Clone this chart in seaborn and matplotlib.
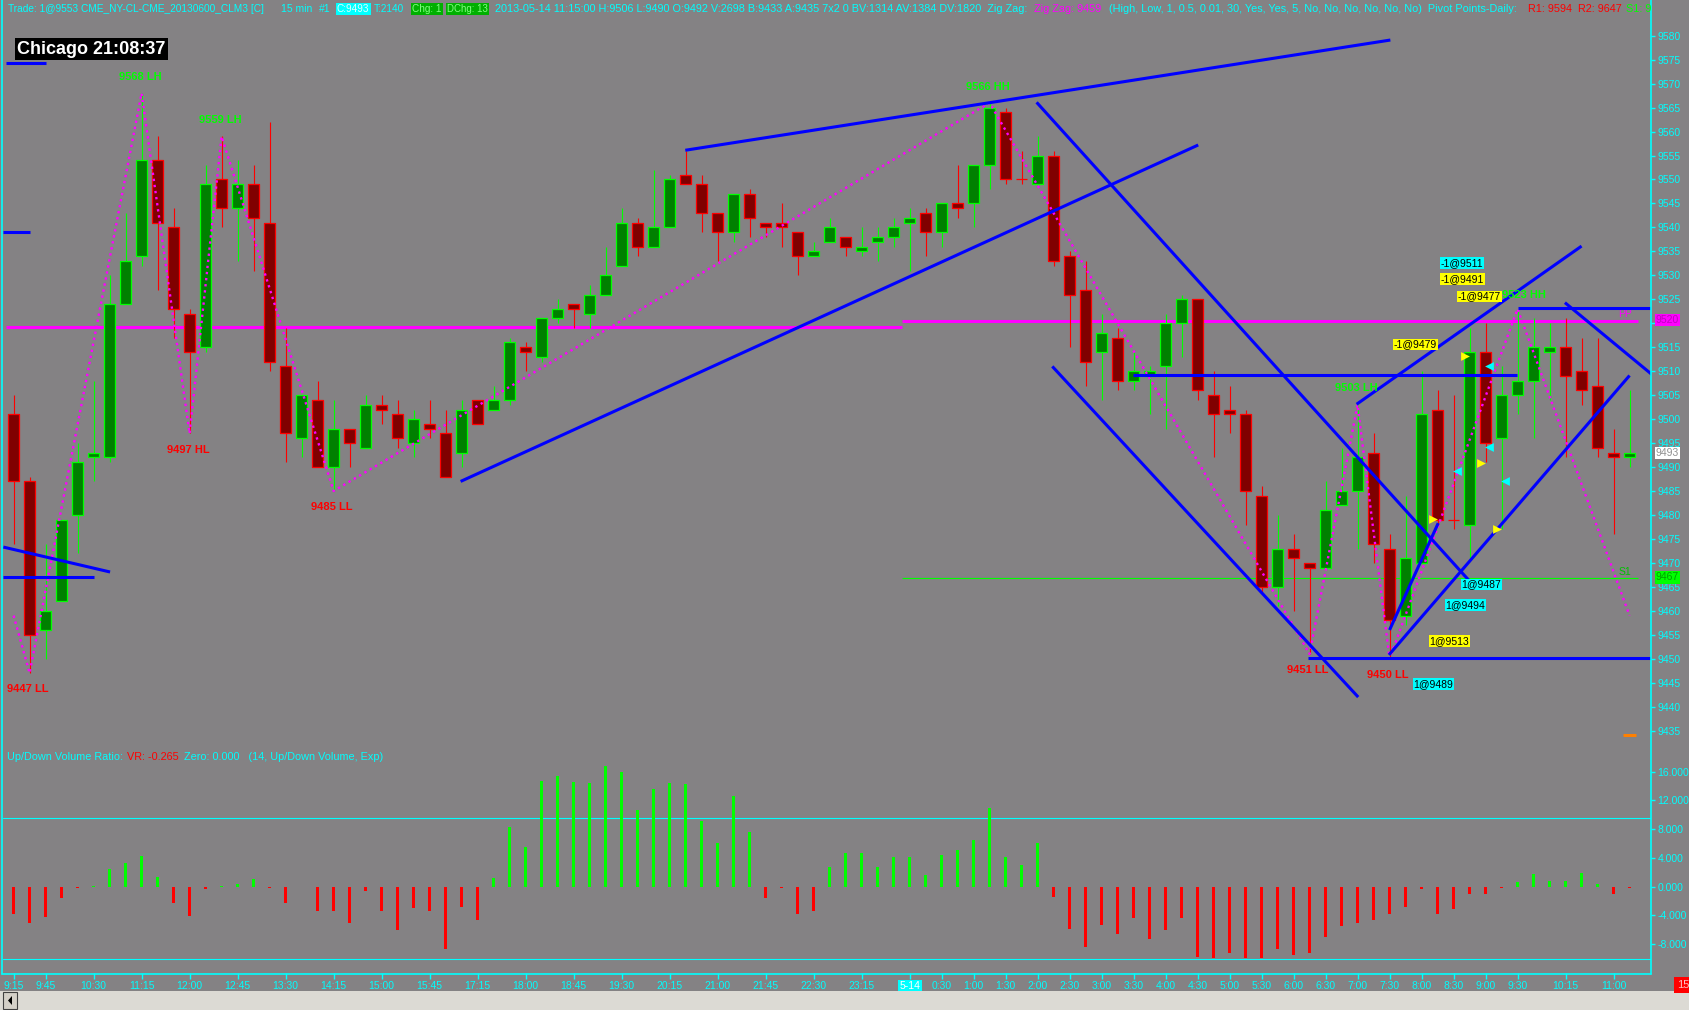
import numpy as np
import matplotlib
matplotlib.use("Agg")
import matplotlib.pyplot as plt
from matplotlib.lines import Line2D
from matplotlib.patches import Rectangle, Polygon
import seaborn as sns

# ── Canvas ───────────────────────────────────────────────────────────────────
W, H = 1690, 1010
BG = "#848284"
CYAN = "#00FFFF"
BLUE = "#0000FF"
MAG = "#FF00FF"
UP_EDGE, UP_FILL = "#00FF00", "#008000"
DN_EDGE, DN_FILL = "#FF0000", "#800000"

# ── Data: 15 min CL bars, prices in ticks (9493 = 94.93) ─────────────────────
opens = [9501, 9487, 9456, 9462, 9480, 9492, 9492, 9524, 9534, 9554,
         9540, 9522, 9515, 9550, 9544, 9549, 9541, 9511, 9496, 9504,
         9490, 9498, 9494, 9503, 9501, 9495, 9499, 9497, 9493, 9504,
         9502, 9504, 9515, 9513, 9521, 9524, 9522, 9526, 9532, 9541,
         9536, 9540, 9551, 9549, 9543, 9539, 9547, 9541, 9541, 9539,
         9534, 9537, 9538, 9535, 9537, 9538, 9541, 9543, 9539, 9545,
         9545, 9553, 9564, 9550, 9549, 9555, 9534, 9527, 9514, 9517,
         9508, 9509, 9511, 9520, 9525, 9505, 9502, 9501, 9484, 9465,
         9473, 9470, 9469, 9482, 9485, 9493, 9473, 9459, 9470, 9502,
         9479, 9478, 9514, 9496, 9505, 9508, 9514, 9515, 9510, 9507,
         9493, 9492]
highs = [9505, 9488, 9474, 9479, 9495, 9508, 9530, 9543, 9568, 9559,
         9544, 9523, 9553, 9559, 9554, 9553, 9562, 9519, 9505, 9508,
         9504, 9498, 9505, 9505, 9504, 9502, 9504, 9502, 9504, 9504,
         9507, 9517, 9516, 9521, 9525, 9524, 9528, 9536, 9544, 9542,
         9552, 9551, 9556, 9551, 9543, 9547, 9548, 9541, 9545, 9539,
         9537, 9542, 9538, 9540, 9540, 9542, 9544, 9544, 9545, 9553,
         9553, 9566, 9565, 9556, 9559, 9556, 9535, 9533, 9522, 9519,
         9514, 9511, 9522, 9526, 9525, 9510, 9507, 9502, 9486, 9480,
         9476, 9470, 9487, 9494, 9503, 9497, 9476, 9484, 9510, 9506,
         9505, 9519, 9520, 9511, 9523, 9521, 9520, 9521, 9517, 9517,
         9498, 9506]
lows = [9474, 9447, 9450, 9462, 9472, 9487, 9491, 9524, 9532, 9527,
        9517, 9497, 9514, 9540, 9533, 9531, 9510, 9491, 9492, 9490,
        9485, 9490, 9494, 9499, 9494, 9492, 9496, 9488, 9490, 9499,
        9502, 9503, 9510, 9512, 9520, 9519, 9519, 9526, 9532, 9534,
        9536, 9540, 9549, 9539, 9533, 9537, 9538, 9538, 9536, 9530,
        9534, 9537, 9534, 9534, 9533, 9536, 9531, 9534, 9536, 9542,
        9540, 9548, 9549, 9549, 9549, 9532, 9515, 9507, 9504, 9506,
        9506, 9501, 9498, 9513, 9504, 9492, 9497, 9478, 9464, 9461,
        9460, 9451, 9469, 9482, 9473, 9470, 9450, 9457, 9470, 9478,
        9477, 9471, 9491, 9477, 9501, 9496, 9504, 9492, 9503, 9492,
        9476, 9490]
closes = [9487, 9455, 9460, 9479, 9491, 9493, 9524, 9533, 9554, 9541,
          9523, 9514, 9549, 9544, 9549, 9542, 9512, 9497, 9505, 9490,
          9498, 9495, 9503, 9502, 9496, 9500, 9498, 9488, 9502, 9499,
          9504, 9516, 9514, 9521, 9523, 9523, 9526, 9530, 9541, 9536,
          9540, 9550, 9549, 9543, 9539, 9547, 9542, 9540, 9540, 9534,
          9535, 9540, 9536, 9536, 9538, 9540, 9542, 9539, 9545, 9544,
          9553, 9565, 9550, 9550, 9555, 9533, 9526, 9512, 9518, 9508,
          9510, 9510, 9520, 9525, 9506, 9501, 9501, 9485, 9465, 9473,
          9471, 9469, 9481, 9485, 9492, 9474, 9458, 9471, 9501, 9479,
          9479, 9514, 9495, 9505, 9508, 9515, 9515, 9509, 9506, 9494,
          9492, 9493]

# Up/Down volume ratio histogram
vol_ratio = [-3860, -5110, -4250, -1600, -200, 50, 2460, 3320, 4250, 1370,
             -2300, -4020, -350, 50, 430, 1130, -200, -2300, 0, -3320,
             -3320, -5110, -580, -3320, -6050, -3000, -3400, -8600, -2850, -4570,
             1210, 8310, 5500, 14720, 15420, 14560, 14480, 16820, 15970, 10660,
             13620, 14480, 14330, 9170, 6050, 12610, 7610, -1520, -200, -3860,
             -3320, 2770, 4650, 4650, 2770, 4180, 4180, 1600, 4410, 5110,
             6520, 10890, 4180, 3000, 6050, -1370, -5820, -8390, -5270, -6600,
             -4410, -7220, -6050, -4410, -9720, -9950, -9170, -9950, -9950, -8630,
             -9560, -9170, -6990, -5500, -5110, -4650, -3860, -2850, -350, -3860,
             -3080, -1050, -1050, -200, 590, 1760, 740, 740, 1910, 350,
             -980, -200]

# Zig zag swing points (bar index, price) and their labels
zz_bar = [0, 1, 8, 11, 13, 20, 61, 81, 84, 86, 94, 101]
zz_price = [9459, 9447, 9568, 9497, 9559, 9485, 9566, 9451, 9503, 9450, 9523, 9459]
swing_labels = [(1, 9447, "LL"), (8, 9568, "LH"), (13, 9559, "LH"), (11, 9497, "HL"),
                (20, 9485, "LL"), (61, 9566, "HH"), (81, 9451, "LL"), (84, 9503, "LH"),
                (86, 9450, "LL")]

# Hand drawn trend lines: (bar0, price0, bar1, price1)
trend_lines = [(-0.5, 9574.4, 2.0, 9574.4), (-0.64, 9539.1, 1.03, 9539.1),
               (-0.64, 9473.3, 6.03, 9468.1), (-0.64, 9467.0, 5.04, 9467.0),
               (27.94, 9487.0, 74.04, 9557.2), (41.98, 9556.1, 86.05, 9579.1),
               (63.94, 9566.1, 91.0, 9466.2), (64.92, 9511.0, 84.04, 9442.0),
               (69.98, 9509.2, 93.98, 9509.2), (80.9, 9450.2, 102.4, 9450.2),
               (85.96, 9450.8, 101.0, 9509.1), (86.0, 9456.0, 89.04, 9478.3),
               (83.94, 9503.1, 98.0, 9536.1), (94.0, 9523.1, 102.4, 9523.1),
               (96.96, 9524.3, 102.4, 9509.3)]

# Pivot levels
pp_prev, pp_today, s1_today = 9519.3, 9520.4, 9466.8
day_break = 55.5

# Trade markers and tags
buy_tri_bar = [90.7, 91.7, 88.7, 92.7]
buy_tri_price = [9513.2, 9490.9, 9479.2, 9477.1]
sell_tri_bar = [92.2, 92.2, 90.2, 93.2]
sell_tri_price = [9511.0, 9494.1, 9489.2, 9487.1]
trade_tags = [("-1@9511", 89.2, 9532.6, CYAN), ("-1@9491", 89.2, 9529.2, "#FFFF00"),
              ("-1@9477", 90.25, 9525.6, "#FFFF00"), ("-1@9479", 86.25, 9515.6, "#FFFF00"),
              ("1@9487", 90.5, 9465.5, CYAN), ("1@9494", 89.5, 9461.2, CYAN),
              ("1@9513", 88.5, 9453.7, "#FFFF00"), ("1@9489", 87.5, 9444.7, CYAN)]

# Time axis
tick_bars = [0, 2, 5, 8, 11, 14, 17, 20, 23, 26, 29, 32, 35, 38, 41, 44, 47, 50, 53,
             56, 58, 60, 62, 64, 66, 68, 70, 72, 74, 76, 78, 80, 82, 84, 86, 88, 90,
             92, 94, 97, 100]
tick_text = ["9:15", "9:45", "10:30", "11:15", "12:00", "12:45", "13:30", "14:15",
             "15:00", "15:45", "17:15", "18:00", "18:45", "19:30", "20:15", "21:00",
             "21:45", "22:30", "23:15", "5-14", "0:30", "1:00", "1:30", "2:00", "2:30",
             "3:00", "3:30", "4:00", "4:30", "5:00", "5:30", "6:00", "6:30", "7:00",
             "7:30", "8:00", "8:30", "9:00", "9:30", "10:15", "11:00"]

# ── Style ────────────────────────────────────────────────────────────────────
sns.set_theme(style="dark", rc={"axes.facecolor": BG, "figure.facecolor": BG,
                                "axes.grid": False})
plt.rcParams["font.family"] = ["Liberation Sans", "DejaVu Sans"]


def rect(x0, y0, x1, y1):
    return [x0 / W, 1 - y1 / H, (x1 - x0) / W, (y1 - y0) / H]


def ftext(x, y, s, **kw):
    kw.setdefault("fontsize", 7.5)
    kw.setdefault("va", "center")
    return fig.text(x / W, 1 - y / H, s, **kw)


fig = plt.figure(figsize=(W / 100, H / 100), dpi=100, facecolor=BG)
ax = fig.add_axes(rect(3, 20, 1651, 745))
axv = fig.add_axes(rect(3, 745, 1651, 973), sharex=ax)

idx = np.arange(len(opens))
o, h, l, c = map(np.array, (opens, highs, lows, closes))
up = c > o

for a in (ax, axv):
    a.set_facecolor(BG)
    for sp in a.spines.values():
        sp.set_visible(False)
    a.yaxis.tick_right()
    a.tick_params(axis="y", colors=CYAN, labelcolor=CYAN, length=3, width=1,
                  pad=1.5, labelsize=7.5)

ax.set_xlim(-0.6625, 102.34)
ax.set_ylim(9432.0, 9583.28)
price_ticks = list(range(9435, 9581, 5))
ax.set_yticks(price_ticks)
# 9520 is covered by the pivot value box
ax.set_yticklabels(["" if t == 9520 else str(t) for t in price_ticks])
ax.tick_params(axis="x", bottom=False, labelbottom=False)

# ── Pivot lines ──────────────────────────────────────────────────────────────
ax.hlines(pp_prev, -0.48, day_break, color=MAG, lw=2.2)
ax.hlines(pp_today, day_break, 101.5, color=MAG, lw=2.2)
ax.hlines(s1_today, day_break, 101.5, color="#00FF00", lw=0.8)
ax.text(100.3, pp_today + 1.6, "PP", color=MAG, fontsize=7.5, va="center")
ax.text(100.3, s1_today + 1.2, "S1", color="#00C000", fontsize=7.5, va="center")

# ── Candles ──────────────────────────────────────────────────────────────────
edge = np.where(up, UP_EDGE, DN_EDGE)
fill = np.where(up, UP_FILL, DN_FILL)
ax.vlines(idx, l, h, colors=edge, lw=0.8, zorder=2)
ax.bar(idx, np.abs(c - o), bottom=np.minimum(o, c), width=0.65, color=fill,
       edgecolor=edge, linewidth=0.9, zorder=3)

# ── Zig zag ──────────────────────────────────────────────────────────────────
sns.lineplot(x=zz_bar, y=zz_price, ax=ax, sort=False, color=MAG, lw=1.7,
             linestyle=(0, (1, 1.6)), zorder=4)
for b, p, tag in swing_labels:
    col = "#00FF00" if tag.endswith("H") else "#FF0000"
    dy = 3.4 if tag.endswith("H") else -3.4
    xb = b - 0.1 if b != 1 else 0.9
    ax.text(xb, p + dy, f"{p} {tag}", color=col, fontsize=8, fontweight="bold",
            ha="center", va="center", zorder=7)

# ── Trend lines ──────────────────────────────────────────────────────────────
for x0, y0, x1, y1 in trend_lines:
    ax.plot([x0, x1], [y0, y1], color=BLUE, lw=2.2, solid_capstyle="butt", zorder=5)

# ── Trades ───────────────────────────────────────────────────────────────────
ax.scatter(buy_tri_bar, buy_tri_price, marker=">", s=40, color="#FFFF00",
           linewidths=0, zorder=6)
ax.scatter(sell_tri_bar, sell_tri_price, marker="<", s=40, color=CYAN,
           linewidths=0, zorder=6)
for s, b, p, col in trade_tags:
    ax.text(b, p, s, color="black", fontsize=7.5, ha="left", va="center", zorder=6,
            bbox=dict(boxstyle="square,pad=0.08", fc=col, ec="none"))
ax.hlines(9434, 100.6, 101.4, color="#FF8000", lw=2.2)

# HH label sits just right of the -1@9477 tag
ax.text(93.05, 9526.0, "9523 HH", color="#00FF00", fontsize=8, fontweight="bold",
        ha="left", va="center", zorder=8)

# ── Volume ratio panel ───────────────────────────────────────────────────────
v = np.array(vol_ratio)
axv.bar(idx, v, width=0.19, color=np.where(v >= 0, "#00FF00", "#FF0000"),
        edgecolor="none", linewidth=0, zorder=3)
axv.set_ylim(-12007, 19715)
axv.set_yticks([16000, 12000, 8000, 4000, 0, -4000, -8000])
axv.set_yticklabels(["16.000", "12.000", "8.000", "4.000", "0.000", "-4.000", "-8.000"])
axv.axhline(9600, color=CYAN, lw=0.8)
axv.axhline(-10000, color=CYAN, lw=0.8)
axv.set_xticks(tick_bars)
axv.set_xticklabels(tick_text)
axv.tick_params(axis="x", colors=CYAN, labelcolor=CYAN, length=4, width=1,
                pad=2, labelsize=7.5, bottom=True)
for lab in axv.get_xticklabels():
    if lab.get_text() == "5-14":
        lab.set_color("white")
        lab.set_bbox(dict(boxstyle="square,pad=0.15", fc=CYAN, ec="none"))

# ── Frame lines ──────────────────────────────────────────────────────────────
for xs, ys in [((2, 2), (0, 974)), ((1651, 1651), (0, 974)), ((2, 1651), (974, 974))]:
    fig.add_artist(Line2D([x / W for x in xs], [1 - y / H for y in ys],
                          color=CYAN, lw=1.2))

# right side value boxes
ftext(1656, 320, "9520", color="#C000C0",
      bbox=dict(boxstyle="square,pad=0.1", fc=MAG, ec="none"))
ftext(1656, 453, "9493", color="#909090",
      bbox=dict(boxstyle="square,pad=0.1", fc="white", ec="none"))
ftext(1656, 577.5, "9467", color="#00A000",
      bbox=dict(boxstyle="square,pad=0.1", fc="#00FF00", ec="none"))
ftext(1677, 985, "15", color="#FFC0C0", fontsize=8,
      bbox=dict(boxstyle="square,pad=0.25", fc="#FF0000", ec="none"))

# scroll bar
fig.add_artist(Rectangle((0, 0), 1, 19 / H, transform=fig.transFigure, fc="#DCDAD4", ec="none"))
fig.add_artist(Rectangle((3 / W, 1 / H), 14 / W, 17 / H, transform=fig.transFigure,
                         fc="#D4D0C8", ec="#404040", lw=0.8))
fig.add_artist(Polygon([(12 / W, 14 / H), (12 / W, 5 / H), (8 / W, 9.5 / H)],
                       closed=True, transform=fig.transFigure, fc="black", ec="none"))

# ── Header / labels ──────────────────────────────────────────────────────────
ftext(8, 9, "Trade: 1@9553 CME_NY-CL-CME_20130600_CLM3 [C]", color=CYAN, fontsize=7.3)
ftext(281, 9, "15 min", color=CYAN)
ftext(319, 9, "#1", color=CYAN)
ftext(337, 9, "C:9493", color="#E0FFFF", fontsize=7.2,
      bbox=dict(boxstyle="square,pad=0.12", fc=CYAN, ec="none"))
ftext(374, 9, "T:2140", color=CYAN, fontsize=7.2)
ftext(412, 9, "Chg: 1", color="#80FF80", fontsize=7.2,
      bbox=dict(boxstyle="square,pad=0.12", fc="#00B000", ec="none"))
ftext(447, 9, "DChg: 13", color="#80FF80", fontsize=7.0,
      bbox=dict(boxstyle="square,pad=0.12", fc="#00B000", ec="none"))
ftext(495, 9, "2013-05-14 11:15:00 H:9506 L:9490 O:9492 V:2698 B:9433 A:9435 7x2 0 "
      "BV:1314 AV:1384 DV:1820  Zig Zag:", color=CYAN, fontsize=7.8)
ftext(1034, 9, "Zig Zag: 9459", color=MAG, fontsize=7.8)
ftext(1109, 9, "(High, Low, 1, 0.5, 0.01, 30, Yes, Yes, 5, No, No, No, No, No, No)  "
      "Pivot Points-Daily:", color=CYAN, fontsize=7.8)
ftext(1528, 9, "R1: 9594  R2: 9647", color="#FF0000", fontsize=7.8)
ftext(1626, 9, "S1: 9", color="#00FF00", fontsize=7.8)

ftext(17, 49, "Chicago 21:08:37", color="white", fontsize=13, fontweight="bold",
      bbox=dict(boxstyle="square,pad=0.12", fc="black", ec="none"))

ftext(7, 757, "Up/Down Volume Ratio:", color=CYAN, fontsize=7.8)
ftext(127, 757, "VR: -0.265", color="#FF0000", fontsize=7.8)
ftext(184, 757, "Zero: 0.000   (14, Up/Down Volume, Exp)", color=CYAN, fontsize=7.8)

fig.savefig("out.png", dpi=100, facecolor=BG)
